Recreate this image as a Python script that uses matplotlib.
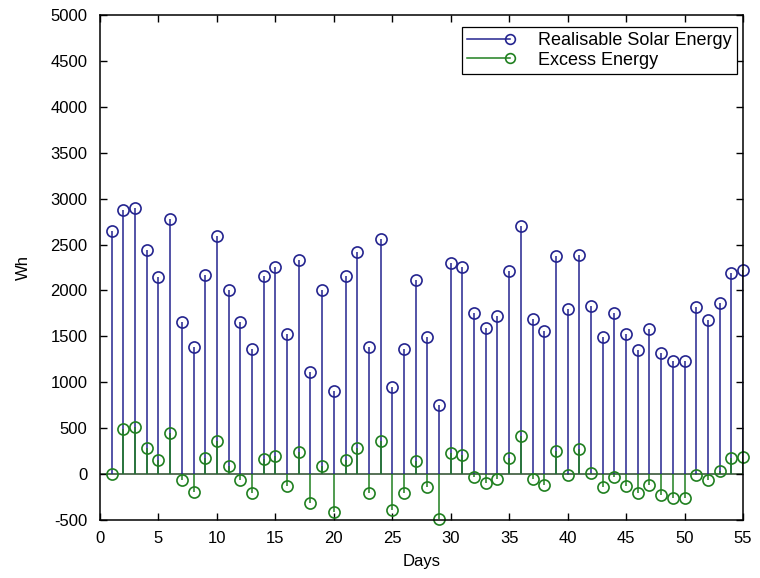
import matplotlib
matplotlib.use("Agg")
import matplotlib.pyplot as plt
from matplotlib.lines import Line2D
from matplotlib.legend_handler import HandlerBase

days = list(range(1, 56))
realisable = [2644, 2881, 2898, 2444, 2142, 2782, 1654, 1382, 2171, 2589,
              2007, 1654, 1364, 2153, 2254, 1527, 2335, 1109, 2008, 901,
              2157, 2418, 1382, 2560, 945, 1364, 2109, 1498, 756, 2302,
              2254, 1753, 1593, 1720, 2208, 2706, 1688, 1556, 2371, 1800,
              2382, 1833, 1498, 1753, 1531, 1349, 1575, 1320, 1236, 1236,
              1818, 1673, 1866, 2189, 2226]
excess = [0, 491, 509, 280, 156, 451, -66, -193, 171, 364,
          87, -66, -211, 160, 200, -135, 243, -310, 91, -410,
          156, 284, -207, 356, -390, -211, 145, -146, -490, 225,
          207, -37, -95, -55, 171, 415, -55, -117, 254, -8,
          273, 11, -146, -37, -135, -207, -117, -226, -255, -262,
          -8, -66, 29, 174, 189]
labels = ["Realisable Solar Energy", "Excess Energy"]
xticks = [0, 5, 10, 15, 20, 25, 30, 35, 40, 45, 50, 55]
yticks = [-500, 0, 500, 1000, 1500, 2000, 2500, 3000, 3500, 4000, 4500, 5000]

BLUE = "#24248f"
GREEN = "#208020"

plt.rcParams["font.family"] = ["Liberation Sans", "DejaVu Sans"]
plt.rcParams["axes.unicode_minus"] = False
fig = plt.figure(figsize=(7.6, 5.78), dpi=100)
ax = fig.add_axes([100/760, 1 - 520/578, 643/760, 505/578])

ax.vlines(days, 0, realisable, colors=BLUE, lw=1.1)
ax.plot(days, realisable, ls="none", marker="o", mfc="none", mec=BLUE, ms=8, mew=1.2, clip_on=False)
ax.vlines(days, 0, excess, colors=GREEN, lw=1.1)
ax.plot(days, excess, ls="none", marker="o", mfc="none", mec=GREEN, ms=8, mew=1.2, clip_on=False)
ax.axhline(0, color="#2a4a2a", lw=1.1, zorder=1)

ax.set_xlim(0, 55)
ax.set_ylim(-500, 5000)
ax.set_xticks(xticks)
ax.set_yticks(yticks)
ax.tick_params(direction="in", top=True, right=True, labelsize=12, length=5, width=1)
ax.tick_params(axis="y", pad=9)
ax.tick_params(axis="x", pad=8)
for s in ax.spines.values():
    s.set_linewidth(1.1)
ax.set_xlabel("Days", fontsize=12, labelpad=6)
ax.set_ylabel("Wh", fontsize=12, labelpad=14)


class EndMarker(HandlerBase):
    def create_artists(self, legend, orig_handle, xdescent, ydescent, width, height, fontsize, trans):
        y = height / 2 - ydescent
        c = orig_handle.get_color()
        ln = Line2D([-xdescent, width - xdescent - 3], [y, y], color=c, lw=1.1)
        mk = Line2D([width - xdescent - 3], [y], ls="none", marker="o", mfc="none", mec=c, ms=7, mew=1.2)
        ln.set_transform(trans)
        mk.set_transform(trans)
        return [ln, mk]


h1 = Line2D([], [], color=BLUE)
h2 = Line2D([], [], color=GREEN)
leg = ax.legend([h1, h2], labels, loc="upper right", bbox_to_anchor=(0.99, 0.977),
                handler_map={Line2D: EndMarker()}, fontsize=13, fancybox=False,
                edgecolor="black", framealpha=1, handlelength=2.6, borderpad=0.3,
                labelspacing=0.15, handletextpad=1.3, borderaxespad=0.0)
leg.get_frame().set_linewidth(0.9)

fig.savefig("out.png", dpi=100)
